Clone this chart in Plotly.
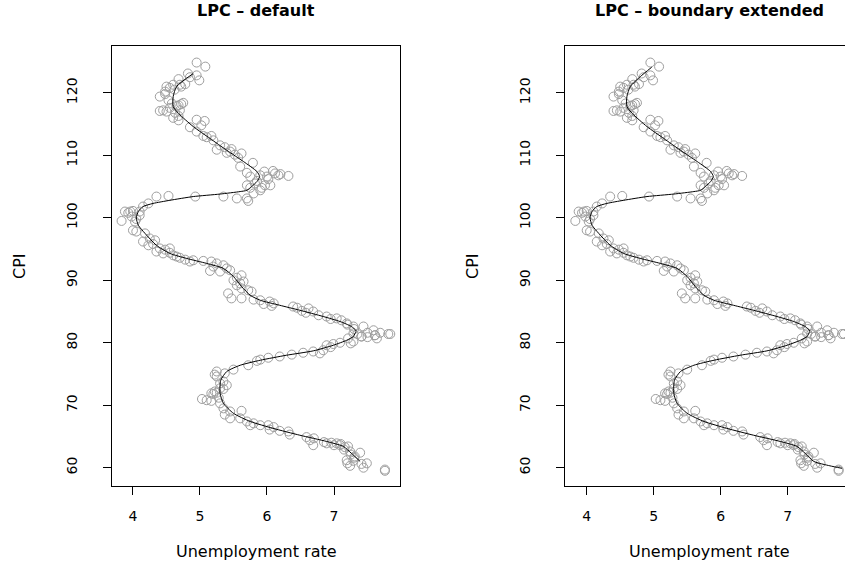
import plotly.graph_objects as go

# ---- data: unemployment rate (x) vs CPI (y) ----
unemp = [4.95, 5.08, 4.82, 4.95, 4.99, 4.68, 4.50, 4.60, 4.70, 4.78, 4.48, 4.40, 4.53, 4.45,
         4.40, 4.55, 4.68, 4.75, 4.70, 4.68, 4.63, 4.68, 4.95, 5.07, 5.02, 4.85, 4.95, 5.05,
         5.17, 5.20, 5.25, 5.37, 5.47, 5.40, 5.62, 5.57, 5.79, 5.60, 5.70, 5.96, 6.09, 6.17,
         6.32, 6.00, 5.90, 5.70, 5.82, 5.97, 5.90, 5.80, 5.70, 5.72, 5.55, 5.35, 4.93, 4.53,
         4.35, 4.23, 4.15, 4.10, 3.88, 3.96, 3.83, 3.98, 4.10, 4.03, 4.00, 4.05, 4.18, 4.25,
         4.15, 4.33, 4.23, 4.40, 4.55, 4.35, 4.45, 4.60, 4.65, 4.78, 4.90, 5.05, 5.17, 5.25,
         5.35, 5.15, 5.30, 5.45, 5.62, 5.50, 5.65, 5.55, 5.62, 5.72, 5.77, 5.42, 5.47, 5.62,
         5.80, 5.90, 6.04, 6.07, 6.39, 6.52, 6.62, 6.69, 6.77, 6.89, 7.04, 7.11, 7.19, 7.29,
         7.44, 7.59, 7.69, 7.81, 7.61, 7.41, 7.21, 7.29, 7.41, 7.61, 7.64, 7.84, 7.29, 7.09,
         6.99, 6.89, 6.84, 6.79, 6.69, 6.54, 6.37, 6.19, 6.02, 5.90, 5.85, 5.72, 5.50, 5.37,
         5.25, 5.25, 5.35, 5.40, 5.30, 5.22, 5.17, 5.25, 5.03, 5.17, 5.30, 5.35, 5.45, 5.62,
         5.37, 5.45, 5.60, 5.70, 5.75, 5.90, 6.02, 6.04, 6.19, 6.32, 6.34, 6.59, 6.64, 6.69,
         6.89, 6.96, 7.04, 7.09, 7.16, 7.21, 7.24, 7.39, 7.31, 7.19, 7.29, 7.24, 7.41, 7.49,
         7.44, 7.76, 7.76,
         4.55, 4.62, 4.72, 4.48, 4.58, 4.65, 4.72, 4.60, 4.50, 4.85,
         5.10, 5.30, 5.45, 5.52, 5.75, 5.85, 6.02, 5.92, 6.05, 5.75, 6.12, 6.20,
         4.00, 3.93, 4.05, 4.30, 4.48, 4.55, 4.70, 4.85, 5.20, 5.40, 5.55, 5.60,
         5.95, 6.10, 6.45, 6.58, 6.95, 7.20, 7.30, 7.50, 7.35, 7.50, 7.25, 6.95,
         5.22, 5.30, 5.35, 5.20, 5.28, 5.10, 5.80, 6.10, 6.70, 6.85, 7.00, 7.10,
         7.15, 7.25, 7.30, 7.20]
cpi = [124.85, 124.2, 123.1, 122.8, 122.0, 122.2, 121.0, 121.3, 121.3, 121.4, 120.2, 119.4,
       118.8, 117.2, 117.1, 117.6, 118.0, 118.4, 117.2, 116.3, 116.8, 115.6, 115.7, 115.5,
       114.8, 114.5, 113.8, 113.1, 113.1, 112.4, 110.9, 111.3, 111.0, 110.4, 110.3, 109.6,
       108.8, 108.2, 107.2, 107.4, 107.5, 106.8, 106.7, 106.6, 106.8, 105.2, 105.5, 105.2,
       104.4, 103.9, 103.1, 102.7, 103.1, 103.4, 103.4, 103.5, 103.4, 102.3, 101.8, 101.0,
       101.0, 101.0, 99.5, 100.2, 100.4, 99.4, 98.0, 97.8, 97.5, 96.7, 96.2, 96.4, 95.6,
       95.1, 95.1, 94.6, 94.3, 94.0, 93.8, 93.3, 93.2, 93.1, 93.0, 92.7, 92.4, 91.5, 91.4,
       91.6, 90.8, 90.0, 89.8, 89.2, 88.7, 88.4, 88.2, 87.9, 87.1, 87.1, 86.9, 86.8, 86.6,
       85.9, 85.8, 85.1, 85.5, 85.0, 84.4, 84.2, 83.9, 83.6, 83.1, 82.6, 82.6, 82.0, 81.6,
       81.4, 81.2, 81.0, 80.7, 81.5, 81.0, 81.2, 80.7, 81.4, 80.2, 80.0, 79.8, 79.6, 78.8,
       78.3, 78.6, 78.4, 78.1, 77.8, 77.6, 77.3, 77.1, 76.4, 75.7, 75.1, 75.4, 74.6, 73.8,
       73.2, 72.7, 72.2, 71.9, 72.0, 71.0, 70.7, 70.3, 69.5, 69.0, 69.1, 68.5, 67.9, 67.9,
       67.4, 66.8, 66.8, 66.8, 66.1, 65.9, 65.8, 65.3, 64.9, 64.4, 63.6, 63.9, 64.0, 63.9,
       63.6, 63.3, 63.4, 62.6, 62.4, 61.8, 61.2, 61.1, 60.3, 60.6, 60.7, 60.0, 59.7, 59.5,
       120.8, 120.5, 121.0, 119.8, 118.3, 117.9, 118.2, 116.0, 117.0, 122.5,
       112.9, 111.6, 110.6, 110.1, 106.6, 105.9, 106.2, 104.8, 105.2, 104.8, 107.1, 107.0,
       101.1, 100.8, 99.8, 95.8, 94.9, 94.4, 93.6, 93.0, 92.2, 91.9, 90.4, 89.5,
       86.2, 86.3, 85.6, 84.8, 83.8, 82.9, 82.2, 81.6, 81.4, 80.9, 79.9, 79.3,
       74.9, 73.5, 72.6, 71.8, 71.2, 70.8, 67.1, 66.5, 64.7, 64.1, 63.6, 63.8,
       62.9, 62.1, 61.6, 60.7]

# LPC curve, default fit
lpc_x = [4.90, 4.65, 4.60, 4.60, 4.68, 4.90, 5.15, 5.40, 5.65, 5.85, 5.89, 5.85, 5.77, 5.70,
         5.60, 5.30, 4.90, 4.55, 4.30, 4.15, 4.08, 4.05, 4.08, 4.18, 4.35, 4.55, 4.80, 5.10,
         5.35, 5.50, 5.62, 5.75, 5.90, 6.19, 6.49, 6.84, 7.09, 7.26, 7.33, 7.31, 7.29, 7.19,
         6.99, 6.69, 6.29, 5.90, 5.60, 5.40, 5.31, 5.30, 5.35, 5.50, 5.75, 6.09, 6.49, 6.89,
         7.14, 7.26, 7.39]
lpc_y = [123.1, 121.0, 119.4, 117.8, 116.7, 114.6, 112.7, 110.8, 109.0, 107.4, 106.6, 105.8,
         105.0, 104.4, 104.2, 103.8, 103.4, 102.8, 102.3, 101.8, 101.0, 100.0, 98.8, 97.5,
         95.6, 94.3, 93.5, 92.7, 91.9, 90.6, 89.0, 87.6, 86.8, 86.0, 85.2, 84.2, 83.4, 82.6,
         81.9, 81.4, 81.0, 80.4, 79.6, 78.7, 78.0, 77.2, 76.4, 75.4, 74.0, 71.9, 70.3, 68.7,
         67.4, 66.3, 65.2, 64.2, 63.4, 62.3, 61.0]

# LPC curve, boundary extended: extra pieces at both ends
ext_top_x = [4.97, 4.80]
ext_top_y = [124.1, 122.6]
ext_bot_x = [7.63, 7.81]
ext_bot_y = [60.3, 59.9]

x_ticks = [4, 5, 6, 7]
y_ticks = [60, 70, 80, 90, 100, 110, 120]
titles = ["LPC \u2013 default", "LPC \u2013 boundary extended"]
x_label = "Unemployment rate"
y_label = "CPI"

W, H = 845, 565
FONT = "DejaVu Sans, Liberation Sans, Arial, sans-serif"
PT_COLOR = "#9e9e9e"

fig = go.Figure()

ext_x = ext_top_x + lpc_x[1:] + ext_bot_x
ext_y = ext_top_y + lpc_y[1:] + ext_bot_y

for i, (cx, cy) in enumerate([(lpc_x, lpc_y), (ext_x, ext_y)]):
    xa = "x" if i == 0 else "x2"
    ya = "y" if i == 0 else "y2"
    fig.add_trace(go.Scatter(x=unemp, y=cpi, mode="markers", xaxis=xa, yaxis=ya,
                             marker=dict(symbol="circle-open", size=9, color=PT_COLOR,
                                         line=dict(width=1, color=PT_COLOR)),
                             showlegend=False, hoverinfo="skip"))
    fig.add_trace(go.Scatter(x=cx, y=cy, mode="lines", xaxis=xa, yaxis=ya,
                             line=dict(color="black", width=1, shape="spline", smoothing=0.6),
                             showlegend=False, hoverinfo="skip"))

left_dom = [112 / W, 400 / W]
right_dom = [565 / W, 1.0]
y_dom = [(H - 486) / H, (H - 46) / H]

x_range_left = [3.687, 7.985]
x_range_right = [3.676, 4 + (W - 586.7) / 67.0]
y_range = [57.07, 127.5]

common_x = dict(tickvals=x_ticks, ticks="outside", ticklen=8, tickwidth=1, tickcolor="black",
                showline=True, linecolor="black", linewidth=1, showgrid=False, zeroline=False,
                tickfont=dict(family=FONT, size=14, color="black"), ticklabelstandoff=9)
common_y = dict(tickvals=y_ticks, ticks="outside", ticklen=8, tickwidth=1, tickcolor="black",
                showline=True, linecolor="black", linewidth=1, showgrid=False, zeroline=False,
                tickangle=-90, tickfont=dict(family=FONT, size=14, color="black"),
                ticklabelstandoff=20, range=y_range, domain=y_dom)

fig.update_layout(
    width=W, height=H, margin=dict(l=0, r=0, t=0, b=0),
    paper_bgcolor="white", plot_bgcolor="white",
    xaxis=dict(domain=left_dom, range=x_range_left, mirror=True, anchor="y", **common_x),
    yaxis=dict(anchor="x", mirror=True, **common_y),
    xaxis2=dict(domain=right_dom, range=x_range_right, mirror=True, anchor="y2", **common_x),
    yaxis2=dict(anchor="x2", mirror=False, **common_y),
)

centers = [(112 + 400) / 2 / W, (565 + 853) / 2 / W]
ylab_x = [19 / W, 472 / W]
for i in range(2):
    fig.add_annotation(text="<b>" + titles[i] + "</b>", xref="paper", yref="paper",
                       x=centers[i], y=1 - 11 / H, xanchor="center", yanchor="middle",
                       showarrow=False, font=dict(family=FONT, size=16, color="black"))
    fig.add_annotation(text=x_label, xref="paper", yref="paper",
                       x=centers[i], y=1 - 551 / H, xanchor="center", yanchor="middle",
                       showarrow=False, font=dict(family=FONT, size=16, color="black"))
    fig.add_annotation(text=y_label, xref="paper", yref="paper", textangle=-90,
                       x=ylab_x[i], y=1 - 266 / H, xanchor="center", yanchor="middle",
                       showarrow=False, font=dict(family=FONT, size=16, color="black"))

fig.write_html("out.html")
